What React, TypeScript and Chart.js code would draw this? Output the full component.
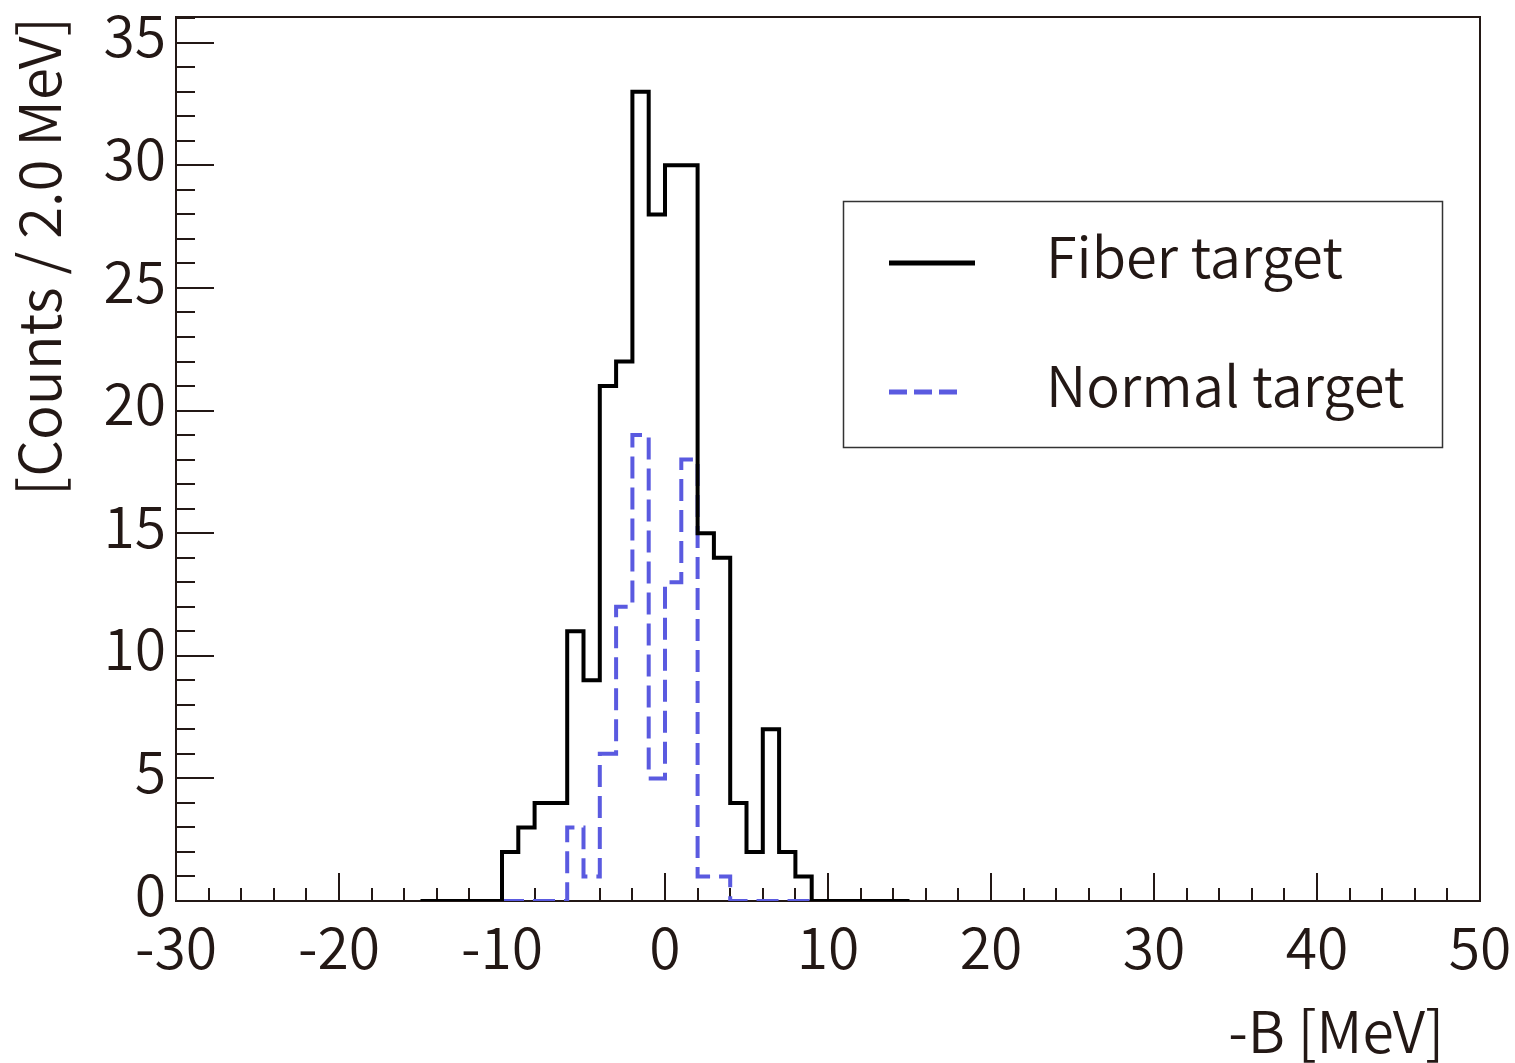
import { useEffect, useRef } from 'react';
import { Chart, registerables } from 'chart.js';

Chart.register(...registerables);

// ---- data ----
const fiberBinEdges = [
  -15, -14, -13, -12, -11, -10, -9, -8, -7, -6, -5, -4, -3, -2, -1, 0,
  1, 2, 3, 4, 5, 6, 7, 8, 9, 10, 11, 12, 13, 14, 15,
];
const fiberCounts = [
  0, 0, 0, 0, 0, 2, 3, 4, 4, 11, 9, 21, 22, 33, 28, 30,
  30, 15, 14, 4, 2, 7, 2, 1, 0, 0, 0, 0, 0, 0,
];
const normalBinEdges = [
  -10, -9, -8, -7, -6, -5, -4, -3, -2, -1, 0, 1, 2, 3, 4, 5, 6, 7, 8, 9,
];
const normalCounts = [
  0, 0, 0, 0, 3, 1, 6, 12, 19, 5, 13, 18, 1, 1, 0, 0, 0, 0, 0,
];
const seriesLabels = ['Fiber target', 'Normal target'];
const xAxisTitle = '-B [MeV]';
const yAxisTitle = '[Counts / 2.0 MeV]';
const xRange = [-30, 50];
const yRange = [0, 36.05];

const INK = '#231815';
const BLUE = '#5a5ae0';
const FONT = "'Noto Sans CJK JP', 'Noto Sans', sans-serif";
const WEIGHT = '350';

function toSteps(edges: number[], counts: number[]) {
  const pts = counts.map((c, i) => ({ x: edges[i], y: c }));
  pts.push({ x: edges[edges.length - 1], y: counts[counts.length - 1] });
  return pts;
}

const framePlugin = {
  id: 'frameTicks',
  beforeDatasetsDraw(chart: any) {
    const { ctx, chartArea: a, scales } = chart;
    const xs = scales.x;
    const ys = scales.y;
    ctx.save();
    ctx.strokeStyle = INK;
    ctx.lineWidth = 2;
    ctx.beginPath();
    for (let v = xs.min; v <= xs.max + 1e-6; v += 2) {
      const px = Math.round(xs.getPixelForValue(v));
      const major = Math.abs(Math.round(v) % 10) === 0;
      ctx.moveTo(px, a.bottom);
      ctx.lineTo(px, a.bottom - (major ? 28 : 13));
    }
    for (let v = 0; v <= ys.max + 1e-6; v += 1) {
      const py = Math.round(ys.getPixelForValue(v));
      const major = v % 5 === 0;
      ctx.moveTo(a.left, py);
      ctx.lineTo(a.left + (major ? 38 : 19), py);
    }
    ctx.stroke();
    ctx.strokeRect(a.left, a.top, a.right - a.left, a.bottom - a.top);
    ctx.restore();
  },
  afterDraw(chart: any) {
    const { ctx } = chart;
    ctx.save();
    // legend box
    ctx.fillStyle = '#ffffff';
    ctx.fillRect(843, 201, 599, 246);
    ctx.strokeStyle = '#333333';
    ctx.lineWidth = 1.5;
    ctx.strokeRect(843.5, 201.5, 599, 246);
    const rows = [263, 392];
    chart.data.datasets.forEach((ds: any, i: number) => {
      const y = rows[i];
      const dashed = ds.borderDash && ds.borderDash.length;
      ctx.strokeStyle = ds.borderColor;
      ctx.lineWidth = 5;
      ctx.setLineDash(dashed ? [18, 7] : []);
      ctx.beginPath();
      ctx.moveTo(889, y);
      ctx.lineTo(dashed ? 957 : 975, y);
      ctx.stroke();
      ctx.setLineDash([]);
      ctx.fillStyle = INK;
      ctx.font = `${WEIGHT} 56px ${FONT}`;
      ctx.textAlign = 'left';
      ctx.textBaseline = 'alphabetic';
      ctx.fillText(ds.label, 1046, y + 15);
    });
    // x axis title
    ctx.fillStyle = INK;
    ctx.font = `${WEIGHT} 57px ${FONT}`;
    ctx.textAlign = 'right';
    ctx.textBaseline = 'alphabetic';
    ctx.fillText(xAxisTitle, 1444, 1053);
    ctx.restore();
  },
};

export default function App() {
  const ref = useRef<HTMLCanvasElement | null>(null);
  useEffect(() => {
    if (!ref.current) return;
    const chart = new Chart(ref.current, {
      type: 'line',
      data: {
        datasets: [
          {
            label: seriesLabels[0],
            data: toSteps(fiberBinEdges, fiberCounts),
            borderColor: '#000000',
            borderWidth: 4,
            stepped: 'before',
            pointRadius: 0,
            fill: false,
          },
          {
            label: seriesLabels[1],
            data: toSteps(normalBinEdges, normalCounts),
            borderColor: BLUE,
            borderWidth: 4,
            borderDash: [22, 9],
            stepped: 'before',
            pointRadius: 0,
            fill: false,
          },
        ],
      },
      options: {
        animation: false,
        responsive: false,
        maintainAspectRatio: false,
        layout: { padding: { top: 17, right: 35, left: 0, bottom: 0 } },
        plugins: { legend: { display: false }, tooltip: { enabled: false } },
        scales: {
          x: {
            type: 'linear',
            min: xRange[0],
            max: xRange[1],
            grid: { display: false },
            border: { display: false },
            ticks: {
              stepSize: 10,
              autoSkip: false,
              maxRotation: 0,
              color: INK,
              padding: 4,
              font: { family: FONT, size: 57, weight: WEIGHT },
            },
            afterFit: (s: any) => {
              s.height = 162;
              s.paddingLeft = 0;
              s.paddingRight = 0;
            },
          },
          y: {
            type: 'linear',
            min: yRange[0],
            max: yRange[1],
            grid: { display: false },
            border: { display: false },
            ticks: {
              stepSize: 5,
              includeBounds: false,
              color: INK,
              padding: 2,
              labelOffset: -7,
              font: { family: FONT, size: 57, weight: WEIGHT },
            },
            title: {
              display: true,
              text: yAxisTitle,
              align: 'end',
              color: INK,
              padding: { top: 4, bottom: 0 },
              font: { family: FONT, size: 58, weight: WEIGHT },
            },
            afterFit: (s: any) => {
              s.width = 176;
              s.paddingTop = 0;
              s.paddingBottom = 0;
            },
          },
        },
      },
      plugins: [framePlugin],
    } as any);
    return () => chart.destroy();
  }, []);
  return (
    <div style={{ position: 'absolute', left: 0, top: 0, width: 1515, height: 1063, background: '#fff' }}>
      <canvas ref={ref} width={1515} height={1063} style={{ width: 1515, height: 1063, display: 'block' }} />
    </div>
  );
}
